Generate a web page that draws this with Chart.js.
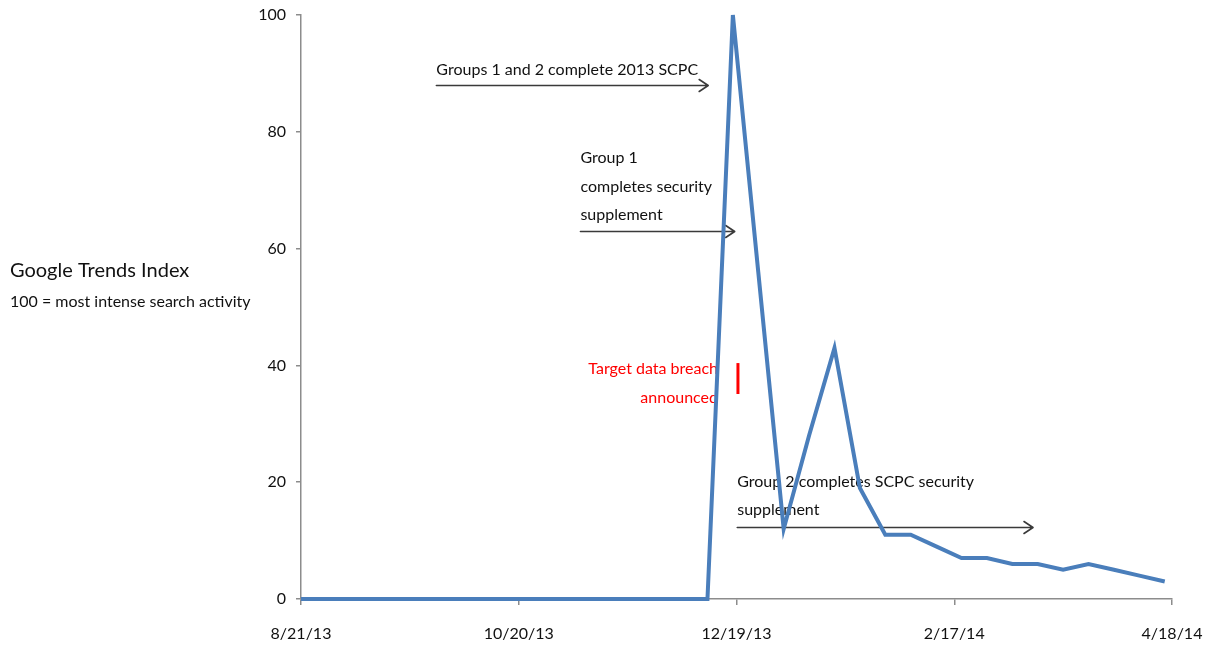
<!DOCTYPE html>
<html>
<head>
<meta charset="utf-8">
<title>Google Trends Index</title>
<script src="https://cdn.jsdelivr.net/npm/chart.js@4/dist/chart.umd.min.js"></script>
<style>
  html, body { margin: 0; padding: 0; background: #ffffff; }
  #wrap { width: 1210px; height: 645px; }
</style>
</head>
<body>
<div id="wrap"><canvas id="chart" width="1210" height="645"></canvas></div>
<script>
// Weekly Google Trends readings
const weekDates = [
  '8/21/13', '8/28/13', '9/4/13', '9/11/13', '9/18/13', '9/25/13', '10/2/13',
  '10/9/13', '10/16/13', '10/23/13', '10/30/13', '11/6/13', '11/13/13', '11/20/13',
  '11/27/13', '12/4/13', '12/11/13', '12/18/13', '12/25/13', '1/1/14', '1/8/14',
  '1/15/14', '1/22/14', '1/29/14', '2/5/14', '2/12/14', '2/19/14', '2/26/14',
  '3/5/14', '3/12/14', '3/19/14', '3/26/14', '4/2/14', '4/9/14', '4/16/14'
];
const trendsIndex = [
  0, 0, 0, 0, 0, 0, 0,
  0, 0, 0, 0, 0, 0, 0,
  0, 0, 0, 100, 56, 12, 28,
  43, 19, 11, 11, 9, 7, 7,
  6, 6, 5, 6, 5, 4, 3
];
const xTickLabels = ['8/21/13', '10/20/13', '12/19/13', '2/17/14', '4/18/14'];
const yTickValues = [0, 20, 40, 60, 80, 100];

const FONT = 'Lato, "Open Sans", "DejaVu Sans", sans-serif';

// day offset of an m/d/yy string from the first week
function toDate(s) {
  const [m, d, y] = s.split('/').map(Number);
  return Date.UTC(2000 + y, m - 1, d);
}
const origin = toDate(weekDates[0]);
function dayOf(s) { return Math.round((toDate(s) - origin) / 86400000); }
const points = weekDates.map((d, i) => ({ x: dayOf(d), y: trendsIndex[i] }));
const xMax = dayOf(xTickLabels[xTickLabels.length - 1]);

// Notes placed in chart coordinates (day offset, index value)
const arrows = [
  { from: 37.3, to: 112.2, at: 88 },
  { from: 77, to: 119.5, at: 63 },
  { from: 120.2, to: 201.7, at: 12.3 }
];
const notes = [
  { lines: ['Groups 1 and 2 complete 2013 SCPC'], day: 37.3, at: 90.6, align: 'left', color: '#111111' },
  { lines: ['Group 1', 'completes security', 'supplement'], day: 77, at: 75.5, align: 'left', color: '#111111' },
  { lines: ['Target data breach', 'announced'], day: 114.9, at: 39.4, align: 'right', color: '#ff0000' },
  { lines: ['Group 2 completes SCPC security', 'supplement'], day: 120.2, at: 20.1, align: 'left', color: '#111111' }
];
const breachMark = { day: 120.4, top: 40.4, bottom: 35.1 };

const notesPlugin = {
  id: 'notes',
  beforeDatasetsDraw(chart) {
    const { ctx, scales: { x, y } } = chart;
    ctx.save();
    // arrows with open heads
    ctx.strokeStyle = '#3a3a3a';
    ctx.lineWidth = 1.6;
    ctx.lineCap = 'round';
    ctx.lineJoin = 'round';
    arrows.forEach(a => {
      const x0 = x.getPixelForValue(a.from);
      const x1 = x.getPixelForValue(a.to);
      const yy = Math.round(y.getPixelForValue(a.at)) + 0.5;
      ctx.beginPath();
      ctx.moveTo(x0, yy);
      ctx.lineTo(x1, yy);
      ctx.moveTo(x1 - 9, yy - 6);
      ctx.lineTo(x1, yy);
      ctx.lineTo(x1 - 9, yy + 6);
      ctx.stroke();
    });
    // text notes
    ctx.font = '16px ' + FONT;
    ctx.textBaseline = 'middle';
    notes.forEach(n => {
      ctx.fillStyle = n.color;
      ctx.textAlign = n.align;
      const px = x.getPixelForValue(n.day);
      const py = y.getPixelForValue(n.at);
      n.lines.forEach((line, i) => ctx.fillText(line, px, py + i * 28.5));
    });
    // red marker for the breach announcement
    ctx.strokeStyle = '#ff0000';
    ctx.lineWidth = 3;
    ctx.lineCap = 'butt';
    const bx = x.getPixelForValue(breachMark.day);
    ctx.beginPath();
    ctx.moveTo(bx, y.getPixelForValue(breachMark.top));
    ctx.lineTo(bx, y.getPixelForValue(breachMark.bottom));
    ctx.stroke();
    ctx.restore();
  },
  afterDraw(chart) {
    // left-hand axis caption
    const { ctx } = chart;
    ctx.save();
    ctx.fillStyle = '#111111';
    ctx.textAlign = 'left';
    ctx.textBaseline = 'middle';
    ctx.font = '20px ' + FONT;
    ctx.fillText('Google Trends Index', 10, 271);
    ctx.font = '16px ' + FONT;
    ctx.fillText('100 = most intense search activity', 10, 302);
    ctx.restore();
  }
};

new Chart(document.getElementById('chart'), {
  type: 'line',
  data: {
    datasets: [{
      label: 'Google Trends Index',
      data: points,
      borderColor: '#4a7ebb',
      borderWidth: 4,
      borderJoinStyle: 'miter',
      pointRadius: 0,
      tension: 0,
      fill: false,
      clip: false
    }]
  },
  options: {
    responsive: false,
    animation: false,
    layout: { padding: { top: 15, right: 38, left: 0, bottom: 0 } },
    plugins: { legend: { display: false }, tooltip: { enabled: false } },
    scales: {
      x: {
        type: 'linear',
        min: 0,
        max: xMax,
        afterBuildTicks(scale) {
          scale.ticks = xTickLabels.map(dayOf).map(v => ({ value: v }));
        },
        afterFit(scale) {
          scale.height = 46;
          scale.paddingLeft = 0;
          scale.paddingRight = 0;
        },
        border: { color: '#8c8c8c', width: 1.5 },
        grid: { drawOnChartArea: false, drawTicks: true, tickLength: 6, color: '#8c8c8c', lineWidth: 1.5 },
        ticks: {
          color: '#111111',
          font: { family: FONT, size: 16 },
          padding: 19,
          maxRotation: 0,
          autoSkip: false,
          callback: (v, i) => xTickLabels[i]
        }
      },
      y: {
        min: 0,
        max: 100,
        afterBuildTicks(scale) {
          scale.ticks = yTickValues.map(v => ({ value: v }));
        },
        afterFit(scale) {
          scale.width = 301;
          scale.paddingTop = 0;
          scale.paddingBottom = 0;
        },
        border: { color: '#8c8c8c', width: 1.5 },
        grid: { drawOnChartArea: false, drawTicks: true, tickLength: 5, color: '#8c8c8c', lineWidth: 1.5 },
        ticks: {
          color: '#111111',
          font: { family: FONT, size: 16 },
          padding: 10
        }
      }
    }
  },
  plugins: [notesPlugin]
});
</script>
</body>
</html>
